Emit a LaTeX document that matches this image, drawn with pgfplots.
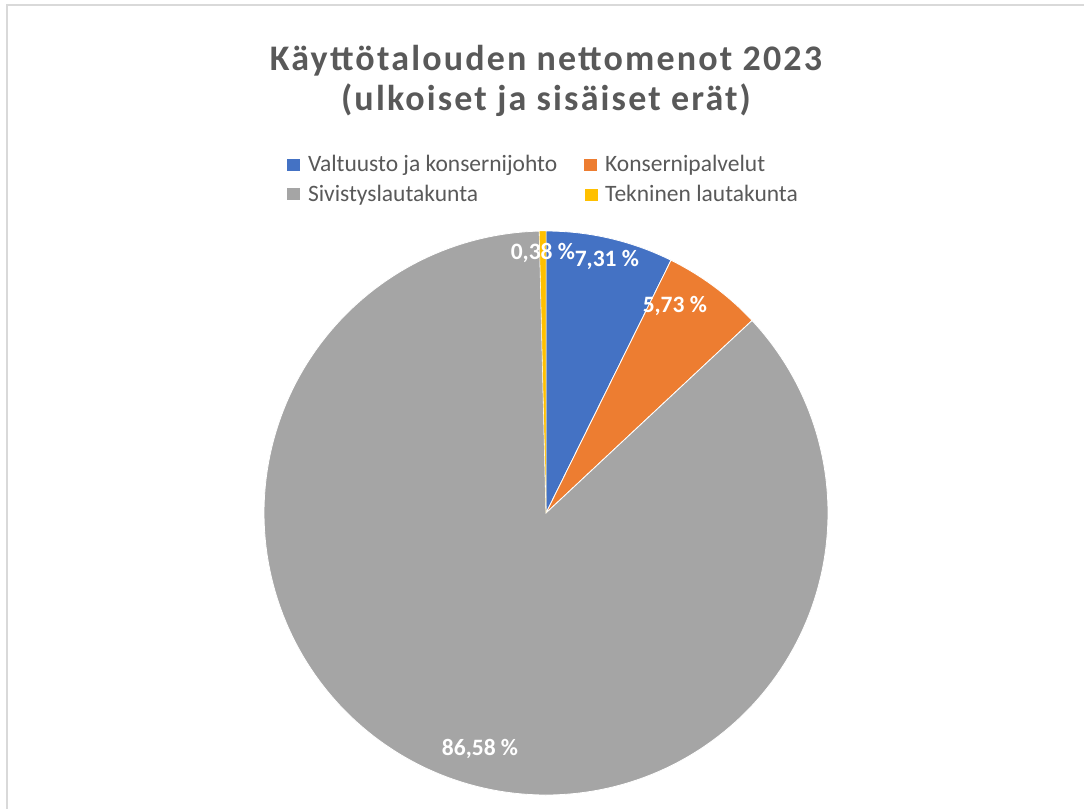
\documentclass[border=0pt]{standalone}
\usepackage{fontspec}
\setmainfont{Carlito}
\newfontfamily\titlefont{Carlito}[LetterSpace=6]
\usepackage{pgfplots}
\pgfplotsset{compat=1.18}

\definecolor{valt}{HTML}{4472C4}
\definecolor{kons}{HTML}{ED7D31}
\definecolor{sivi}{HTML}{A5A5A5}
\definecolor{tekn}{HTML}{FFC000}
\definecolor{titlegray}{HTML}{595959}
\definecolor{framegray}{HTML}{D9D9D9}

% shares in per cent, clockwise from 12 o'clock
\def\pValt{7.31}
\def\pKons{5.73}
\def\pSivi{86.58}
\def\pTekn{0.38}
\pgfmathsetmacro\aA{90}
\pgfmathsetmacro\aB{\aA-3.6*\pValt}
\pgfmathsetmacro\aC{\aB-3.6*\pKons}
\pgfmathsetmacro\aD{\aC-3.6*\pSivi}
\pgfmathsetmacro\aE{\aD-3.6*\pTekn}

\begin{document}
\begin{tikzpicture}[x=1bp,y=1bp]
\useasboundingbox (0,0) rectangle (1084,-809);
\draw[framegray, line width=1.5bp] (7,-809) -- (7,-5) -- (1084,-5);

\node[anchor=base, text=titlegray, font=\titlefont\fontsize{36bp}{40bp}\selectfont\bfseries]
  at (546,-70.7) {Käyttötalouden nettomenot 2023};
\node[anchor=base, text=titlegray, font=\titlefont\fontsize{36bp}{40bp}\selectfont\bfseries]
  at (546,-110) {(ulkoiset ja sisäiset erät)};

\begin{axis}[
    at={(546bp,-513bp)}, anchor=center,
    width=564bp, height=564bp, scale only axis,
    xmin=-1, xmax=1, ymin=-1, ymax=1,
    hide axis, clip=false,
    legend columns=2,
    legend cell align=left,
    legend image code/.code={\fill[#1] (0bp,-7bp) rectangle (14bp,6bp);},
    legend style={
        at={(rel axis cs:0.039,1.135)}, anchor=north west,
        draw=none, fill=none, inner sep=0pt,
        font=\fontsize{23.5bp}{28bp}\selectfont,
        text=titlegray,
        nodes={inner sep=0pt},
        row sep=12bp,
        /tikz/every odd column/.append style={column sep=7bp},
        /tikz/every even column/.append style={column sep=26bp},
    },
    every axis plot/.append style={draw=white, line width=0.8bp, samples=60},
]
\addplot[fill=valt, domain=\aB:\aA] ({cos(x)},{sin(x)}) -- (axis cs:0,0) -- cycle;
\addlegendentry{Valtuusto ja konsernijohto}
\addplot[fill=kons, domain=\aC:\aB] ({cos(x)},{sin(x)}) -- (axis cs:0,0) -- cycle;
\addlegendentry{Konsernipalvelut}
\addplot[fill=sivi, domain=\aD:\aC, samples=200] ({cos(x)},{sin(x)}) -- (axis cs:0,0) -- cycle;
\addlegendentry{Sivistyslautakunta}
\addplot[fill=tekn, domain=\aE:\aD, samples=5, line width=0.3bp] ({cos(x)},{sin(x)}) -- (axis cs:0,0) -- cycle;
\addlegendentry{Tekninen lautakunta}

\begin{scope}[every node/.style={text=white, font=\fontsize{23.5bp}{28bp}\selectfont\bfseries}]
\node at (axis cs:-0.011,0.922) {0,38 \%};
\node at (axis cs:0.216,0.897) {7,31 \%};
\node at (axis cs:0.457,0.734) {5,73 \%};
\node at (axis cs:-0.234,-0.837) {86,58 \%};
\end{scope}
\end{axis}
\end{tikzpicture}
\end{document}
